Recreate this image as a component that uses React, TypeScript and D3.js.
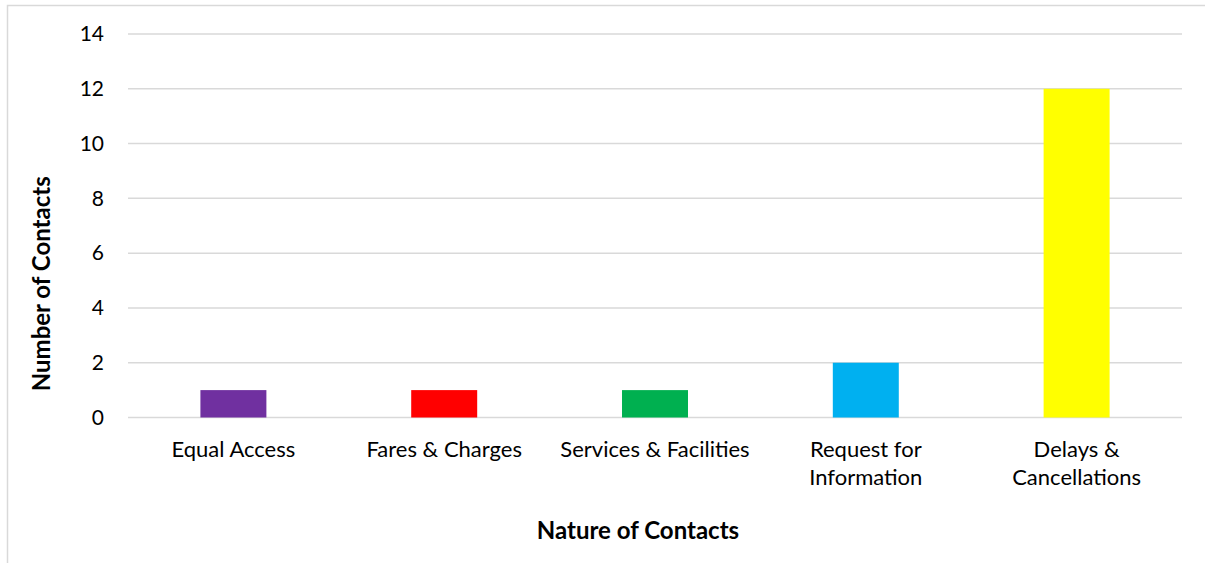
import React, { useRef, useEffect } from 'react';
import * as d3 from 'd3';

// données
const categories = ['Equal Access', 'Fares & Charges', 'Services & Facilities', 'Request for Information', 'Delays & Cancellations'];
const labelLines = [['Equal Access'], ['Fares & Charges'], ['Services & Facilities'], ['Request for', 'Information'], ['Delays &', 'Cancellations']];
const values = [1, 1, 1, 2, 12];
const colors = ['#7030A0', '#FF0000', '#00B050', '#00B0F0', '#FFFF00'];
const yTicks = [0, 2, 4, 6, 8, 10, 12, 14];

const FONT = 'Lato, "Open Sans", sans-serif';

function BarChart() {
  const svgRef = useRef<SVGSVGElement>(null);

  useEffect(() => {
    const width = 1205;
    const height = 563;
    const left = 128, right = 1182, top = 34, bottom = 417.5;

    const svg = d3.select(svgRef.current)
      .attr('width', width)
      .attr('height', height)
      .style('display', 'block')
      .style('background', '#fff');
    svg.selectAll('*').remove();

    // cadre (coupé à droite et en bas)
    svg.append('rect')
      .attr('x', 7.5).attr('y', 5.5)
      .attr('width', 1205).attr('height', 600)
      .attr('fill', 'none')
      .attr('stroke', '#D9D9D9')
      .attr('stroke-width', 1.5);

    const x = d3.scaleBand().domain(categories).range([left, right]).paddingInner(0.687).paddingOuter(0.3435);
    const y = d3.scaleLinear().domain([0, 14]).range([bottom, top]);

    // grille
    svg.append('g')
      .selectAll('line')
      .data(yTicks)
      .join('line')
      .attr('x1', left).attr('x2', right)
      .attr('y1', d => y(d)).attr('y2', d => y(d))
      .attr('stroke', '#D9D9D9')
      .attr('stroke-width', 1.5);

    // étiquettes de l'axe y
    svg.append('g')
      .selectAll('text')
      .data(yTicks)
      .join('text')
      .attr('x', 104)
      .attr('y', d => y(d))
      .attr('dy', '0.35em')
      .attr('text-anchor', 'end')
      .style('font-family', FONT)
      .style('font-size', '21px')
      .style('fill', '#000')
      .text(d => d);

    // barres
    svg.append('g')
      .selectAll('rect')
      .data(values)
      .join('rect')
      .attr('x', (d, i) => x(categories[i]) as number)
      .attr('y', d => y(d))
      .attr('width', x.bandwidth())
      .attr('height', d => bottom - y(d))
      .attr('fill', (d, i) => colors[i]);

    // étiquettes des catégories
    const cat = svg.append('g');
    labelLines.forEach((lines, i) => {
      const cx = (x(categories[i]) as number) + x.bandwidth() / 2;
      lines.forEach((line, j) => {
        cat.append('text')
          .attr('x', cx)
          .attr('y', 449 + j * 28)
          .attr('dy', '0.35em')
          .attr('text-anchor', 'middle')
          .style('font-family', FONT)
          .style('font-size', '22px')
          .style('fill', '#000')
          .text(line);
      });
    });

    // titres des axes
    svg.append('text')
      .attr('x', (left + right) / 2 - 17)
      .attr('y', 531)
      .attr('dy', '0.35em')
      .attr('text-anchor', 'middle')
      .style('font-family', FONT)
      .style('font-size', '24px')
      .style('font-weight', 'bold')
      .style('fill', '#000')
      .text('Nature of Contacts');

    svg.append('text')
      .attr('transform', `translate(42, ${(top + bottom) / 2 + 58}) rotate(-90)`)
      .attr('dy', '0.35em')
      .attr('text-anchor', 'middle')
      .style('font-family', FONT)
      .style('font-size', '24px')
      .style('font-weight', 'bold')
      .style('fill', '#000')
      .text('Number of Contacts');
  }, []);

  return <svg ref={svgRef}></svg>;
}

export default function App() {
  document.body.style.margin = '0';
  return <BarChart />;
}
